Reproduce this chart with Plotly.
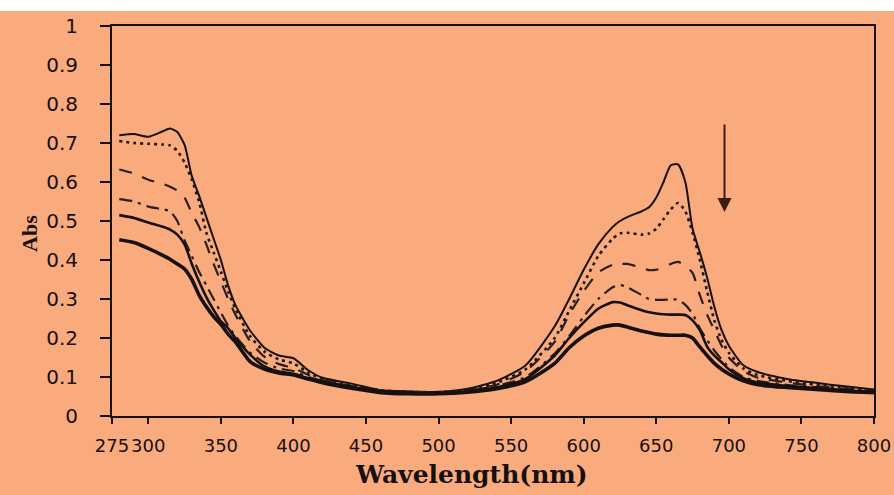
import plotly.graph_objects as go

# Wavelength grid (nm) shared by all absorption spectra
wavelength = [280, 290, 300, 310, 315, 320, 325, 330, 335, 340,
              345, 350, 355, 360, 370, 380, 390, 400, 410, 420,
              440, 460, 480, 500, 520, 540, 560, 580, 590, 600,
              610, 620, 625, 630, 640, 645, 650, 655, 660, 665,
              670, 675, 680, 685, 690, 695, 700, 710, 720, 740,
              760, 780, 800]

# Absorbance spectra, from the first scan (top) to the last (bottom)
abs_scan1 = [0.72, 0.723, 0.716, 0.73, 0.737, 0.728, 0.695, 0.615, 0.565, 0.51,
             0.455, 0.40, 0.335, 0.285, 0.22, 0.175, 0.155, 0.148, 0.118, 0.098,
             0.083, 0.066, 0.063, 0.062, 0.07, 0.09, 0.13, 0.23, 0.30, 0.375,
             0.44, 0.485, 0.50, 0.51, 0.525, 0.535, 0.56, 0.60, 0.643, 0.645,
             0.60, 0.48, 0.42, 0.355, 0.28, 0.22, 0.18, 0.13, 0.113, 0.095,
             0.085, 0.076, 0.068]
abs_scan2 = [0.705, 0.70, 0.698, 0.696, 0.694, 0.68, 0.65, 0.605, 0.55, 0.47,
             0.42, 0.37, 0.32, 0.275, 0.205, 0.165, 0.145, 0.135, 0.112, 0.095,
             0.08, 0.066, 0.062, 0.061, 0.068, 0.085, 0.12, 0.20, 0.27, 0.34,
             0.41, 0.455, 0.468, 0.47, 0.465, 0.468, 0.48, 0.505, 0.53, 0.546,
             0.525, 0.47, 0.40, 0.32, 0.245, 0.195, 0.162, 0.122, 0.105, 0.09,
             0.08, 0.072, 0.066]
abs_scan3 = [0.632, 0.622, 0.606, 0.595, 0.588, 0.578, 0.56, 0.52, 0.485, 0.44,
             0.39, 0.345, 0.30, 0.26, 0.192, 0.152, 0.133, 0.123, 0.106, 0.092,
             0.077, 0.065, 0.061, 0.061, 0.066, 0.08, 0.115, 0.19, 0.26, 0.32,
             0.368, 0.388, 0.39, 0.39, 0.38, 0.374, 0.375, 0.38, 0.39, 0.395,
             0.385, 0.367, 0.31, 0.26, 0.22, 0.18, 0.15, 0.115, 0.098, 0.086,
             0.077, 0.07, 0.064]
abs_scan4 = [0.556, 0.55, 0.537, 0.53, 0.525, 0.50, 0.45, 0.41, 0.37, 0.335,
             0.30, 0.265, 0.232, 0.205, 0.163, 0.137, 0.122, 0.115, 0.10, 0.09,
             0.076, 0.065, 0.06, 0.06, 0.065, 0.077, 0.10, 0.16, 0.205, 0.255,
             0.30, 0.33, 0.336, 0.33, 0.31, 0.30, 0.298, 0.298, 0.299, 0.298,
             0.285, 0.262, 0.225, 0.195, 0.168, 0.145, 0.125, 0.10, 0.09, 0.08,
             0.074, 0.068, 0.063]
abs_scan5 = [0.515, 0.508, 0.496, 0.485, 0.478, 0.465, 0.44, 0.39, 0.345, 0.305,
             0.272, 0.243, 0.225, 0.20, 0.158, 0.127, 0.114, 0.108, 0.097, 0.088,
             0.074, 0.064, 0.059, 0.059, 0.063, 0.073, 0.095, 0.155, 0.20, 0.24,
             0.275, 0.292, 0.291, 0.284, 0.271, 0.266, 0.263, 0.261, 0.26, 0.26,
             0.259, 0.245, 0.22, 0.178, 0.155, 0.138, 0.12, 0.097, 0.086, 0.077,
             0.072, 0.066, 0.062]
abs_scan6 = [0.452, 0.445, 0.43, 0.412, 0.402, 0.39, 0.377, 0.35, 0.31, 0.28,
             0.255, 0.235, 0.21, 0.19, 0.14, 0.12, 0.11, 0.105, 0.095, 0.085,
             0.071, 0.06, 0.057, 0.057, 0.061, 0.07, 0.088, 0.135, 0.175, 0.205,
             0.225, 0.233, 0.233, 0.228, 0.218, 0.214, 0.21, 0.208, 0.207, 0.207,
             0.207, 0.20, 0.177, 0.155, 0.135, 0.12, 0.108, 0.09, 0.08, 0.073,
             0.068, 0.063, 0.06]

x_ticks = [275, 300, 350, 400, 450, 500, 550, 600, 650, 700, 750, 800]
y_ticks = [0, 0.1, 0.2, 0.3, 0.4, 0.5, 0.6, 0.7, 0.8, 0.9, 1]
y_tick_text = ["0", "0.1", "0.2", "0.3", "0.4", "0.5", "0.6", "0.7", "0.8", "0.9", "1"]

BG = "#FAAB7E"
INK = "#161010"

series = [
    (abs_scan1, dict(color=INK, width=2, dash="solid")),
    (abs_scan2, dict(color="#1e1612", width=2.6, dash="3px,4px")),
    (abs_scan3, dict(color="#2a1e18", width=2.2, dash="13px,11px")),
    (abs_scan4, dict(color="#2a1e18", width=2.2, dash="13px,6px,3px,6px")),
    (abs_scan5, dict(color=INK, width=2.6, dash="solid")),
    (abs_scan6, dict(color=INK, width=3.6, dash="solid")),
]

fig = go.Figure()
for values, line in series:
    fig.add_trace(go.Scatter(x=wavelength, y=values, mode="lines",
                             line=dict(shape="spline", smoothing=0.6, **line),
                             showlegend=False, hoverinfo="skip"))

# Arrow marking the decrease of absorbance with time
fig.add_annotation(x=697, y=0.523, ax=697, ay=0.751, xref="x", yref="y",
                   axref="x", ayref="y", text="", showarrow=True,
                   arrowhead=2, arrowsize=1.4, arrowwidth=2, arrowcolor="#3a1c10")

fig.add_annotation(text="<b>Wavelength(nm)</b>", xref="paper", yref="paper",
                   x=0.4724, y=-0.151, xanchor="center", yanchor="middle",
                   showarrow=False, font=dict(family="DejaVu Serif", size=25, color=INK))
fig.add_annotation(text="<b>Abs</b>", xref="paper", yref="paper",
                   x=-0.1076, y=0.4667, xanchor="center", yanchor="middle",
                   textangle=-90, showarrow=False,
                   font=dict(family="Liberation Serif", size=22, color=INK))

# white border strips along the top and left edges of the page
fig.add_shape(type="rect", xref="paper", yref="paper", x0=-0.2, x1=1.1,
              y0=(416 - 11) / 390, y1=1.2, fillcolor="white", line_width=0, layer="above")
fig.add_shape(type="rect", xref="paper", yref="paper", x0=-0.2, x1=-7 / 762 - 112 / 762,
              y0=-0.3, y1=1.2, fillcolor="white", line_width=0, layer="above")

fig.update_xaxes(range=[275, 800], tickvals=x_ticks, tickangle=0, ticks="outside",
                 ticklen=6, tickwidth=2, tickcolor=INK, showline=True, linewidth=2,
                 linecolor=INK, mirror=True, showgrid=False, zeroline=False,
                 tickfont=dict(family="DejaVu Sans", size=18, color=INK),
                 ticklabelstandoff=6, automargin=False)
fig.update_yaxes(range=[0, 1], tickvals=y_ticks, ticktext=y_tick_text, ticks="outside",
                 ticklen=10, tickwidth=2, tickcolor=INK, showline=True, linewidth=2,
                 linecolor=INK, mirror=True, showgrid=False, zeroline=False,
                 tickfont=dict(family="DejaVu Sans", size=20, color=INK),
                 ticklabelstandoff=18, automargin=False)

fig.update_layout(width=894, height=495, paper_bgcolor=BG, plot_bgcolor=BG,
                  margin=dict(l=112, r=20, t=26, b=79))

fig.write_html("out.html")
